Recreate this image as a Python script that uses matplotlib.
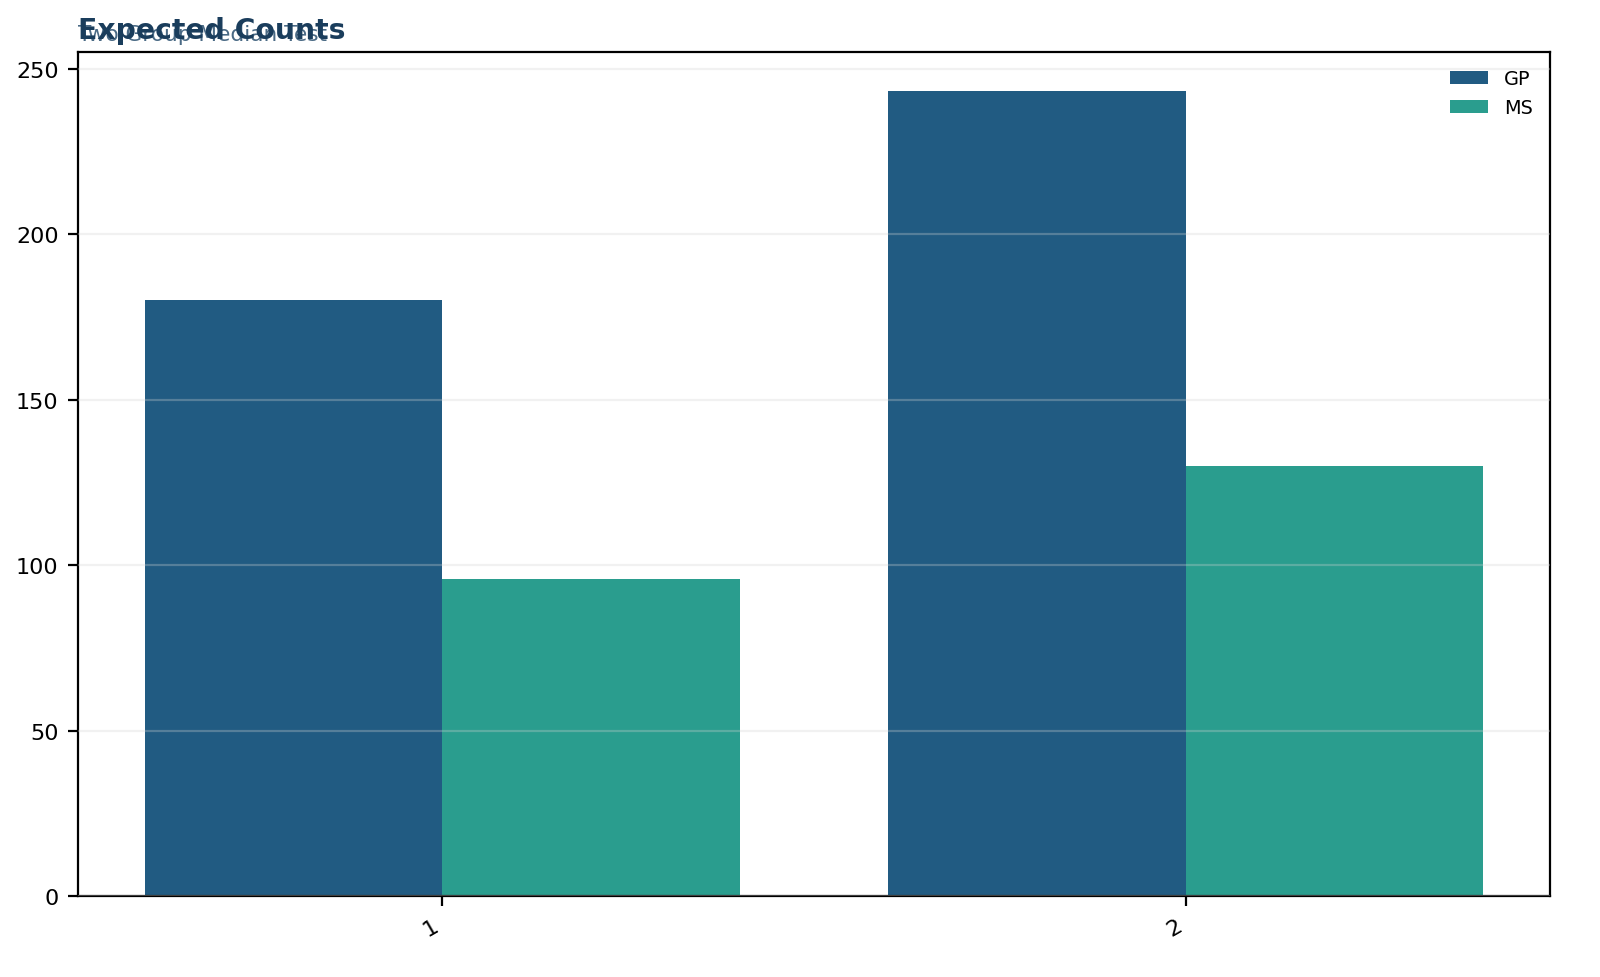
import matplotlib
matplotlib.use("Agg")
import matplotlib.pyplot as plt
import numpy as np

categories = ["1", "2"]
groups = ["GP", "MS"]
gp_values = [180.0, 243.3]
ms_values = [95.9, 129.8]
colors = {"GP": "#215b82", "MS": "#2a9d8e"}

fig = plt.figure(figsize=(8, 4.89), dpi=200)
ax = fig.add_axes([0.04875, 0.0828, 0.92, 0.863])

x = np.arange(len(categories))
w = 0.4
ax.bar(x - w / 2, gp_values, width=w, color=colors["GP"], label="GP", zorder=1)
ax.bar(x + w / 2, ms_values, width=w, color=colors["MS"], label="MS", zorder=1)

ax.set_xlim(-0.49, 1.49)
ax.set_ylim(0, 255)
ax.set_yticks([0, 50, 100, 150, 200, 250])
ax.set_xticks(x)
ax.set_xticklabels(categories, rotation=30, ha="right")
ax.tick_params(labelsize=8)
ax.yaxis.grid(True, color="#d3d3d3", alpha=0.3, linewidth=0.8, zorder=3)
ax.set_axisbelow(False)
for s in ax.spines.values():
    s.set_linewidth(0.8)
    s.set_color("black")

ax.legend(loc="upper right", frameon=False, fontsize=6.94)

fig.text(0.04875, 0.958, "Two Group Median Test", fontsize=7.8, color="#4a6a85",
         ha="left", va="baseline")
fig.text(0.04875, 0.96, "Expected Counts", fontsize=10.2, fontweight="bold",
         color="#1a3d5c", ha="left", va="baseline")

fig.savefig("out.png", dpi=200)
